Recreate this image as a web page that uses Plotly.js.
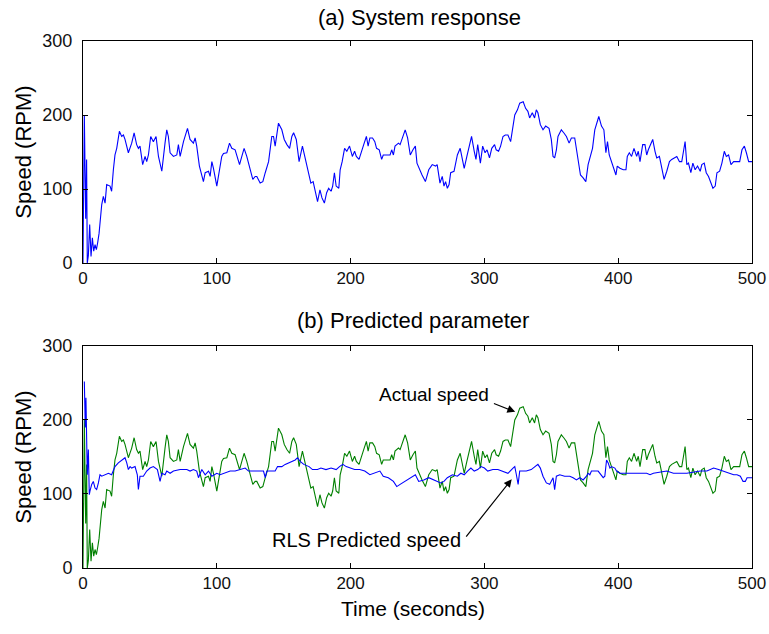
<!DOCTYPE html>
<html>
<head>
<meta charset="utf-8">
<script src="https://cdn.plot.ly/plotly-3.0.1.min.js"></script>
<style>
  html, body { margin: 0; padding: 0; background: #fff; }
  #chart { width: 769px; height: 634px; }
</style>
</head>
<body>
<div id="chart"></div>
<script>
// Measured motor speed (RPM) over time (s)
const actualTime = [
  0, 1, 2, 2.7, 3.2, 4, 5, 6, 7, 8,
  9, 10, 11, 12, 14, 15.2, 16.5, 17.7, 20.2, 21.4,
  22.7, 23.9, 25.2, 27.2, 28.9, 30.2, 31.4, 33.9, 36.4, 38.2,
  40.1, 41.4, 42.6, 44.6, 46.4, 47.6, 48.9, 50.6, 52.6, 54.6,
  56.4, 58.9, 61.3, 62.6, 63.8, 65.1, 67.6, 70.1, 71.3, 72.6,
  75.1, 78.1, 80, 82.5, 83.8, 85, 87, 88.8, 90, 91.3,
  93.8, 95, 96.3, 97.5, 98.8, 100, 101.2, 103.7, 105, 107.5,
  109.5, 111.2, 113.7, 115, 117, 118.7, 120.4, 122.4, 123.7, 125.4,
  126.9, 128.7, 129.9, 132.4, 134.4, 136.2, 138.7, 141.1, 142.4, 143.6,
  146.1, 148.6, 150.4, 152.4, 154.4, 156.1, 157.4, 159.4, 161.5, 164,
  165.2, 167, 169, 170.3, 172, 173.6, 175.3, 177.1, 178.6, 180.4,
  182.1, 183.6, 185.4, 186.6, 187.9, 189.2, 191.2, 192.2, 193.7, 195.5,
  197.2, 199.2, 201.3, 203, 204.3, 206.3, 208.1, 209.8, 211.8, 213.1,
  214.4, 216.4, 218.1, 219.4, 221.4, 223.2, 224.4, 227, 229.5, 230.7,
  232, 233.2, 235.8, 237, 239, 240.8, 242.6, 244.6, 246.6, 248.4,
  249.6, 251.6, 253.4, 255.9, 258.4, 261, 263.5, 264.7, 266.8, 268.5,
  269.8, 271, 272.3, 273.6, 274.8, 277.3, 278.6, 279.8, 281.9, 283.6,
  284.9, 286.9, 288.7, 290.4, 292.4, 293.7, 295, 297, 298.7, 300.5,
  302, 303.8, 305.5, 307.6, 308.8, 310.6, 312.1, 313.9, 315.6, 317.6,
  319.6, 321.4, 322.7, 324.7, 326.4, 329, 330.8, 332.5, 333.8, 335.8,
  337.5, 338.8, 340, 341.8, 343.8, 345.8, 348.3, 350, 351.3, 352.5,
  353.8, 355, 357.5, 359.3, 361.3, 363.3, 365, 367.5, 368.8, 370,
  371.8, 373.8, 375.8, 377.5, 379.3, 380.8, 382.5, 384.3, 385.5, 387.5,
  389.3, 390.8, 392, 393.3, 395, 396.8, 398.3, 399.3, 401.3, 403.8,
  405.8, 406.8, 408.3, 410, 411.8, 413.8, 415, 416.3, 418.3, 420,
  421.3, 422.5, 424.3, 425.8, 427.5, 428.8, 430.8, 432.5, 434.3, 436.3,
  438.3, 440, 441.8, 443.8, 445.8, 447.5, 448.8, 450, 451.3, 452.5,
  454.3, 455.8, 457.5, 459.3, 461.3, 462.5, 464.3, 465.8, 467.5, 469.3,
  470.8, 472.5, 473.8, 475.8, 477.5, 479.3, 480.8, 482.5, 484.3, 486.3,
  488.8, 490.8, 492.5, 494.3, 495.8, 497.5, 500
];
const actualSpeed = [
  0, 200, 60, 140, 0, 10, 52, 9, 34, 16,
  25, 18, 28, 40, 79, 90, 81, 106, 104, 97,
  126, 146, 155, 178, 171, 173, 167, 149, 162, 176,
  160, 155, 158, 133, 144, 137, 146, 171, 164, 171,
  144, 124, 162, 180, 171, 149, 144, 146, 160, 144,
  164, 182, 167, 162, 169, 158, 131, 117, 110, 122,
  124, 117, 137, 128, 113, 104, 117, 144, 148, 149,
  162, 155, 153, 144, 133, 144, 155, 144, 135, 122,
  113, 117, 117, 108, 110, 122, 137, 171, 171, 158,
  189, 180, 167, 160, 155, 171, 176, 167, 137, 158,
  149, 135, 122, 108, 110, 95, 83, 99, 88, 81,
  95, 101, 97, 104, 122, 104, 101, 126, 137, 155,
  151, 158, 144, 151, 144, 140, 149, 160, 171, 158,
  169, 169, 164, 155, 153, 140, 146, 146, 146, 153,
  146, 158, 162, 160, 171, 180, 169, 146, 153, 158,
  135, 126, 119, 110, 126, 133, 131, 133, 108, 117,
  104, 110, 101, 106, 122, 124, 137, 146, 155, 140,
  128, 144, 160, 171, 151, 140, 160, 135, 158, 149,
  153, 142, 155, 160, 153, 151, 158, 171, 173, 173,
  164, 185, 200, 207, 216, 218, 209, 205, 196, 203,
  196, 207, 203, 187, 180, 185, 182, 167, 144, 142,
  153, 171, 180, 176, 171, 162, 169, 169, 153, 135,
  119, 115, 110, 133, 144, 155, 180, 189, 198, 185,
  180, 149, 164, 146, 137, 126, 119, 131, 128, 126,
  126, 144, 149, 144, 155, 144, 151, 137, 160, 160,
  146, 153, 162, 167, 151, 142, 144, 131, 113, 124,
  137, 140, 142, 144, 137, 137, 151, 164, 133, 135,
  122, 135, 126, 131, 124, 133, 135, 122, 117, 108,
  101, 104, 122, 124, 135, 151, 144, 146, 133, 137,
  137, 137, 153, 158, 149, 137, 137
];

// Speed estimated by the recursive least-squares predictor
const rlsTime = [
  1, 1.7, 2.2, 2.7, 3.2, 4, 4.7, 5.2, 6.5, 7.7,
  9, 10.2, 11.5, 12.7, 14, 16.5, 19, 21.4, 22.7, 23.9,
  26.4, 28.9, 31.4, 32.7, 33.9, 35.2, 36.4, 38.9, 40.6, 41.4,
  42.6, 45.1, 47.6, 50.1, 52.6, 55.6, 57.6, 58.9, 61.3, 62.6,
  65.1, 67.6, 72.6, 77.6, 80, 82.5, 85, 86.3, 88.8, 91.3,
  93.8, 96.3, 100, 102.5, 106.2, 110, 113.7, 117.5, 121.2, 123.7,
  127.4, 131.2, 134.9, 136.2, 137.4, 141.1, 143.6, 145.4, 148.6, 151.1,
  153.6, 156.1, 158.6, 160.3, 162.3, 165, 169, 171.5, 175.3, 177.8,
  181.6, 185.4, 189.2, 191.7, 194.2, 196.7, 200.5, 203, 206.8, 210.6,
  214.4, 218.1, 221.9, 224.4, 228.2, 232, 234.5, 237, 240.8, 244.6,
  248.4, 250.9, 254.7, 258.4, 262.2, 264.7, 267.3, 269.8, 272.3, 276.1,
  279.8, 282.4, 284.9, 287.4, 289.9, 292.4, 295, 297.5, 300, 302.5,
  306.3, 310.1, 313.9, 317.6, 321.4, 322.7, 323.9, 325.2, 326.4, 331.3,
  335, 337.5, 340, 341.8, 343.8, 346.3, 348.8, 351.3, 352.5, 353.8,
  356.3, 360, 363.8, 366.3, 368.8, 371.3, 373.8, 376.3, 377.5, 378.8,
  380, 385, 387.5, 388.8, 390, 391.3, 392.5, 393.8, 395, 397.5,
  398.8, 401.3, 411.3, 421.3, 423.8, 426.3, 436.3, 441.3, 451.3, 461.3,
  466.3, 468.8, 471.3, 475, 478.8, 482.5, 486.3, 488.8, 491.3, 493.3,
  495, 496.3, 500
];
const rlsSpeed = [
  252, 190, 230, 150, 126, 160, 99, 104, 113, 117,
  108, 106, 115, 126, 124, 126, 128, 126, 131, 137,
  142, 146, 149, 142, 133, 137, 135, 137, 126, 106,
  124, 124, 131, 135, 137, 133, 117, 128, 126, 131,
  128, 131, 133, 133, 131, 133, 131, 122, 133, 126,
  131, 124, 128, 126, 128, 131, 131, 133, 135, 131,
  131, 131, 131, 122, 131, 131, 131, 137, 137, 140,
  142, 144, 146, 149, 144, 140, 137, 133, 133, 135,
  133, 135, 133, 137, 140, 137, 135, 133, 133, 131,
  126, 128, 131, 124, 122, 117, 110, 113, 117, 122,
  126, 117, 119, 122, 119, 117, 115, 117, 122, 126,
  124, 128, 126, 131, 135, 131, 133, 137, 135, 131,
  133, 133, 131, 128, 135, 137, 126, 113, 131, 131,
  133, 137, 140, 135, 124, 115, 113, 122, 106, 124,
  126, 124, 124, 122, 119, 122, 119, 124, 128, 126,
  131, 131, 126, 122, 124, 146, 142, 135, 137, 135,
  131, 128, 128, 128, 126, 128, 131, 128, 128, 131,
  131, 133, 135, 133, 131, 128, 126, 126, 124, 117,
  117, 122, 122
];

const xTicks = [0, 100, 200, 300, 400, 500];
const yTicks = [0, 100, 200, 300];

const FONT = 'Liberation Sans, Arial, sans-serif';
const INK = '#111';

const traces = [
  { x: actualTime, y: actualSpeed, xaxis: 'x', yaxis: 'y', type: 'scatter', mode: 'lines',
    line: { color: '#0000ff', width: 1.1 }, hoverinfo: 'skip' },
  { x: actualTime, y: actualSpeed, xaxis: 'x2', yaxis: 'y2', type: 'scatter', mode: 'lines',
    line: { color: '#008000', width: 1.1 }, hoverinfo: 'skip' },
  { x: rlsTime, y: rlsSpeed, xaxis: 'x2', yaxis: 'y2', type: 'scatter', mode: 'lines',
    line: { color: '#0000ff', width: 1.1 }, hoverinfo: 'skip' }
];

function xAxis(anchor) {
  return {
    anchor: anchor, range: [0, 500], tickvals: xTicks, ticks: 'inside', ticklen: 5,
    tickcolor: '#000', showline: true, linecolor: '#000', linewidth: 1, mirror: 'ticks',
    showgrid: false, zeroline: false, ticklabelstandoff: 0,
    tickfont: { family: FONT, size: 17, color: INK }
  };
}
function yAxis(anchor, domain) {
  return {
    anchor: anchor, domain: domain, range: [0, 300], tickvals: yTicks, ticks: 'inside', ticklen: 5,
    tickcolor: '#000', showline: true, linecolor: '#000', linewidth: 1, mirror: 'ticks',
    showgrid: false, zeroline: false, ticklabelstandoff: 6,
    tickfont: { family: FONT, size: 18, color: INK },
    title: { text: 'Speed (RPM)', font: { family: FONT, size: 22, color: '#000' }, standoff: 4 }
  };
}

const layout = {
  width: 769, height: 634,
  margin: { l: 83, r: 17, t: 41, b: 66 },
  paper_bgcolor: '#fff', plot_bgcolor: '#fff',
  showlegend: false,
  xaxis: xAxis('y'),
  yaxis: yAxis('x', [0.5787, 1]),
  xaxis2: xAxis('y2'),
  yaxis2: yAxis('x2', [0, 0.4213]),
  annotations: [
    { text: '(a) System response', xref: 'paper', yref: 'paper', x: 0.503, y: 1.0455,
      xanchor: 'center', yanchor: 'middle', showarrow: false,
      font: { family: FONT, size: 22, color: '#000' } },
    { text: '(b) Predicted parameter', xref: 'paper', yref: 'paper', x: 0.493, y: 0.4687,
      xanchor: 'center', yanchor: 'middle', showarrow: false,
      font: { family: FONT, size: 22, color: '#000' } },
    { text: 'Time (seconds)', xref: 'paper', yref: 'paper', x: 0.493, y: -0.076,
      xanchor: 'center', yanchor: 'middle', showarrow: false,
      font: { family: FONT, size: 21, color: '#000' } },
    { text: 'Actual speed', xref: 'x2', yref: 'y2', x: 262, y: 234,
      xanchor: 'center', yanchor: 'middle', showarrow: false,
      font: { family: FONT, size: 19, color: '#000' } },
    { text: '', xref: 'x2', yref: 'y2', x: 323, y: 211, axref: 'x2', ayref: 'y2', ax: 306, ay: 223,
      showarrow: true, arrowhead: 2, arrowsize: 1.3, arrowwidth: 1.2, arrowcolor: '#000' },
    { text: 'RLS Predicted speed', xref: 'x2', yref: 'y2', x: 212, y: 38,
      xanchor: 'center', yanchor: 'middle', showarrow: false,
      font: { family: FONT, size: 20, color: '#000' } },
    { text: '', xref: 'x2', yref: 'y2', x: 320.4, y: 120, axref: 'x2', ayref: 'y2', ax: 285.5, ay: 40.5,
      showarrow: true, arrowhead: 2, arrowsize: 1.3, arrowwidth: 1.2, arrowcolor: '#000' }
  ]
};

Plotly.newPlot('chart', traces, layout, { staticPlot: true, displayModeBar: false });
</script>
</body>
</html>
